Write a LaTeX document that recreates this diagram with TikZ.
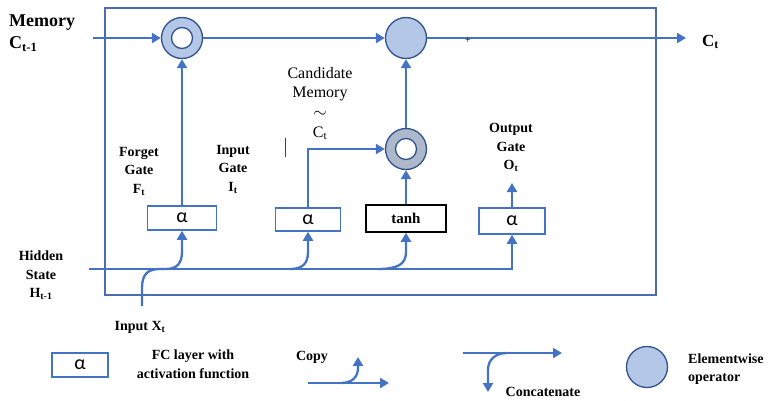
\documentclass[tikz,border=0pt]{standalone}
\usepackage{fontspec}
\setmainfont{Liberation Serif}
\newfontfamily\alphafont{Carlito}
\usetikzlibrary{arrows.meta}
\definecolor{lineblue}{HTML}{4472C4}
\definecolor{cellblue}{HTML}{4A6DB0}
\definecolor{opfill}{HTML}{B4C7E7}
\definecolor{opdraw}{HTML}{2F528F}
\definecolor{candfill}{HTML}{ADB9CA}
\begin{document}
\begin{tikzpicture}[x=1pt,y=-1pt,
  conn/.style={lineblue, line width=2.3pt},
  arr/.style={conn, -{Triangle[length=9pt,width=10pt]}},
  fcbox/.style={draw=lineblue, line width=1.5pt, fill=white, inner sep=0pt,
    font=\alphafont\fontsize{20}{20}\selectfont},
  opnode/.style={circle, draw=opdraw, fill=opfill, line width=1.3pt, minimum size=41pt, inner sep=0pt},
  hole/.style={circle, draw=opdraw, fill=white, line width=1.3pt, minimum size=21pt, inner sep=0pt},
  lbl/.style={font=\bfseries\fontsize{14}{18.5}\selectfont, align=center, inner sep=0pt},
  big/.style={font=\bfseries\fontsize{18}{18}\selectfont, inner sep=0pt, anchor=west},
]
\useasboundingbox (0,0) rectangle (772,400);

% cell border
\node[draw=cellblue, line width=1.8pt, minimum width=551pt, minimum height=287pt, inner sep=0pt] (cell) at (380.5,151.5) {};

% operators
\node[opnode] (fmul) at (182,38) {};
\node[hole] (fmulh) at (182,38) {};
\node[opnode] (add) at (406,38) {};
\node[opnode, fill=candfill] (cmul) at (406,149) {};
\node[hole] (cmulh) at (406,149) {};

% layer boxes
\node[fcbox, minimum width=69pt, minimum height=24pt] (fbox) at (182,218) {α};
\node[fcbox, minimum width=65pt, minimum height=23pt] (ibox) at (308,219.5) {α};
\node[fcbox, draw=black, minimum width=80pt, minimum height=27pt,
  font=\bfseries\fontsize{15}{15}\selectfont] (tbox) at (406,218.5) {tanh};
\node[fcbox, minimum width=66pt, minimum height=26pt] (obox) at (512,221) {α};

% free ends
\coordinate (memin) at (93,38);
\coordinate (ctout) at (686,38);
\coordinate (hin) at (89,269);
\coordinate (xin) at (142,306);
\coordinate (otop) at (512,183);

% connectors
\draw[arr] (memin) -- (fmul);
\draw[arr] (fmul) -- (add);
\draw[arr] (add) -- (ctout);
\draw[arr] (fbox) -- (fmul);
\draw[arr] (ibox.north) |- (cmul);
\draw[arr] (tbox) -- (cmul);
\draw[arr] (cmul) -- (add);
\draw[arr] (obox) -- (otop);
\draw[arr] (hin) -- (hin -| obox.south) -- (obox.south);
\draw[arr] (xin) -- (142,288) .. controls (142,274) and (148,269) .. (160,269) -- (166,269)
  .. controls (177,269) and (182,263) .. (182,252) -- (fbox.south);
\draw[arr] (290,269) .. controls (302,269) and (308,264) .. (308,252) -- (ibox.south);
\draw[arr] (378,269) .. controls (398,269) and (406,264) .. (406,252) -- (tbox.south);

% labels
\node[big] (memlbl) at (9,23) {Memory};
\node[big] (ctm1) at (9,44) {C\textsubscript{t-1}};
\node[big, font=\bfseries\fontsize{17}{17}\selectfont] (ctlbl) at (702,42) {C\textsubscript{t}};
\node[inner sep=0pt, font=\fontsize{10}{10}\selectfont] (plus) at (468,41) {+};
\node[lbl] (forgetlbl) at (139,171.5) {Forget\\Gate\\F\textsubscript{t}};
\node[lbl] (inputlbl) at (233,169.5) {Input\\Gate\\I\textsubscript{t}};
\node[lbl, font=\fontsize{16}{19.7}\selectfont] (candlbl) at (320,103.5) {Candidate\\Memory\\$\sim$\\C\textsubscript{t}};
\draw[black!75, line width=0.8pt] (285,138) -- (285,157);
\node[lbl] (outputlbl) at (511,147.5) {Output\\Gate\\O\textsubscript{t}};
\node[lbl] (hiddenlbl) at (41,275.5) {Hidden\\State\\H\textsubscript{t-1}};
\node[lbl] (xlbl) at (140,327) {Input X\textsubscript{t}};

% legend
\node[fcbox, minimum width=56pt, minimum height=24pt] (lbox) at (80,365) {α};
\node[lbl] (fclbl) at (193,364) {FC layer with\\activation function};
\node[lbl] (copylbl) at (312,357) {Copy};
\coordinate (cpa) at (308,383);
\coordinate (cpb) at (389,383);
\coordinate (cpc) at (341,383);
\coordinate (cpd) at (358,357);
\draw[arr] (cpa) -- (cpb);
\draw[arr] (cpc) .. controls (352,383) and (358,377) .. (358,368) -- (cpd);
\coordinate (cca) at (463,353);
\coordinate (ccb) at (562,353);
\coordinate (ccc) at (507,353);
\coordinate (ccd) at (488,392);
\draw[arr] (cca) -- (ccb);
\draw[arr] (ccc) .. controls (495,353) and (488,360) .. (488,370) -- (ccd);
\node[lbl] (catlbl) at (543,392) {Concatenate};
\node[opnode] (lop) at (647,367) {};
\node[lbl, align=left, anchor=west] (oplbl) at (688,369) {Elementwise\\operator};
\end{tikzpicture}
\end{document}
